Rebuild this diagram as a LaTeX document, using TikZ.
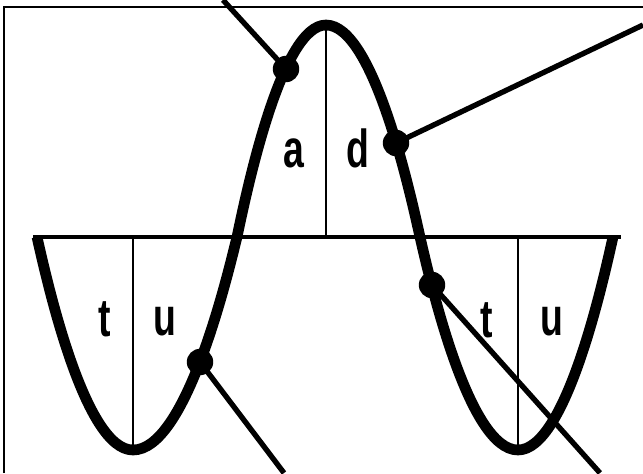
\documentclass[tikz,border=0pt]{standalone}
\usepackage{fontspec}
\setmainfont{Liberation Sans}
\usepackage{tikz}
\usetikzlibrary{positioning}

\begin{document}
\begin{tikzpicture}[
x=0.025cm,
y=-0.025cm,
wave/.style={
line width=7.6pt,
line join=round
},
leader/.style={line width=3.8pt},
axis/.style={line width=2.8pt},
divider/.style={line width=1.4pt},
dot/.style={
circle,
fill=black,
inner sep=0pt,
minimum size=0.66cm
},
letter/.style={
inner sep=0pt,
font=\fontsize{38}{38}\selectfont\bfseries
}
]

\useasboundingbox (0,0) rectangle (643,473);

%---------------- Frame ----------------%

\draw[divider] (4,473) -- (4,7) -- (643,7);

%---------------- Axis ----------------%

\coordinate (axisL) at (33,237);
\coordinate (axisR) at (621,237);

\coordinate (peak) at (326,25);
\coordinate (trough1) at (133,450);
\coordinate (trough2) at (518,450);

\draw[axis] (axisL) -- (axisR);

\draw[divider] (peak) -- (peak |- axisL);
\draw[divider] (trough1) -- (trough1 |- axisL);
\draw[divider] (trough2) -- (trough2 |- axisL);

%---------------- Curve ----------------%

\draw[wave] (37,237) parabola bend (trough1) (237,237)
parabola bend (peak) (420,237)
parabola bend (trough2) (613,237);

%---------------- Labels ----------------%

\node[letter] (a) at (294,153) {\scalebox{0.7}[1]{a}};
\node[letter] (d) at (358,148) {\scalebox{0.7}[1]{d}};

\node[letter] (t1) at (105,319) {\scalebox{0.7}[1]{t}};
\node[letter] (u1) at (165,322) {\scalebox{0.7}[1]{u}};

\node[letter] (t2) at (487,320) {\scalebox{0.7}[1]{t}};
\node[letter] (u2) at (552,322) {\scalebox{0.7}[1]{u}};

%---------------- Points ----------------%

\node[dot] (p1) at (286,69) {};
\node[dot] (p2) at (396,143) {};
\node[dot] (p3) at (200,362) {};
\node[dot] (p4) at (432,285) {};

\coordinate (e1) at (223,0);
\coordinate (e2) at (643,25);
\coordinate (e3) at (284,473);
\coordinate (e4) at (600,473);

\draw[leader] (p1.center) -- (e1);
\draw[leader] (p2.center) -- (e2);
\draw[leader] (p3.center) -- (e3);
\draw[leader] (p4.center) -- (e4);

\end{tikzpicture}
\end{document}
